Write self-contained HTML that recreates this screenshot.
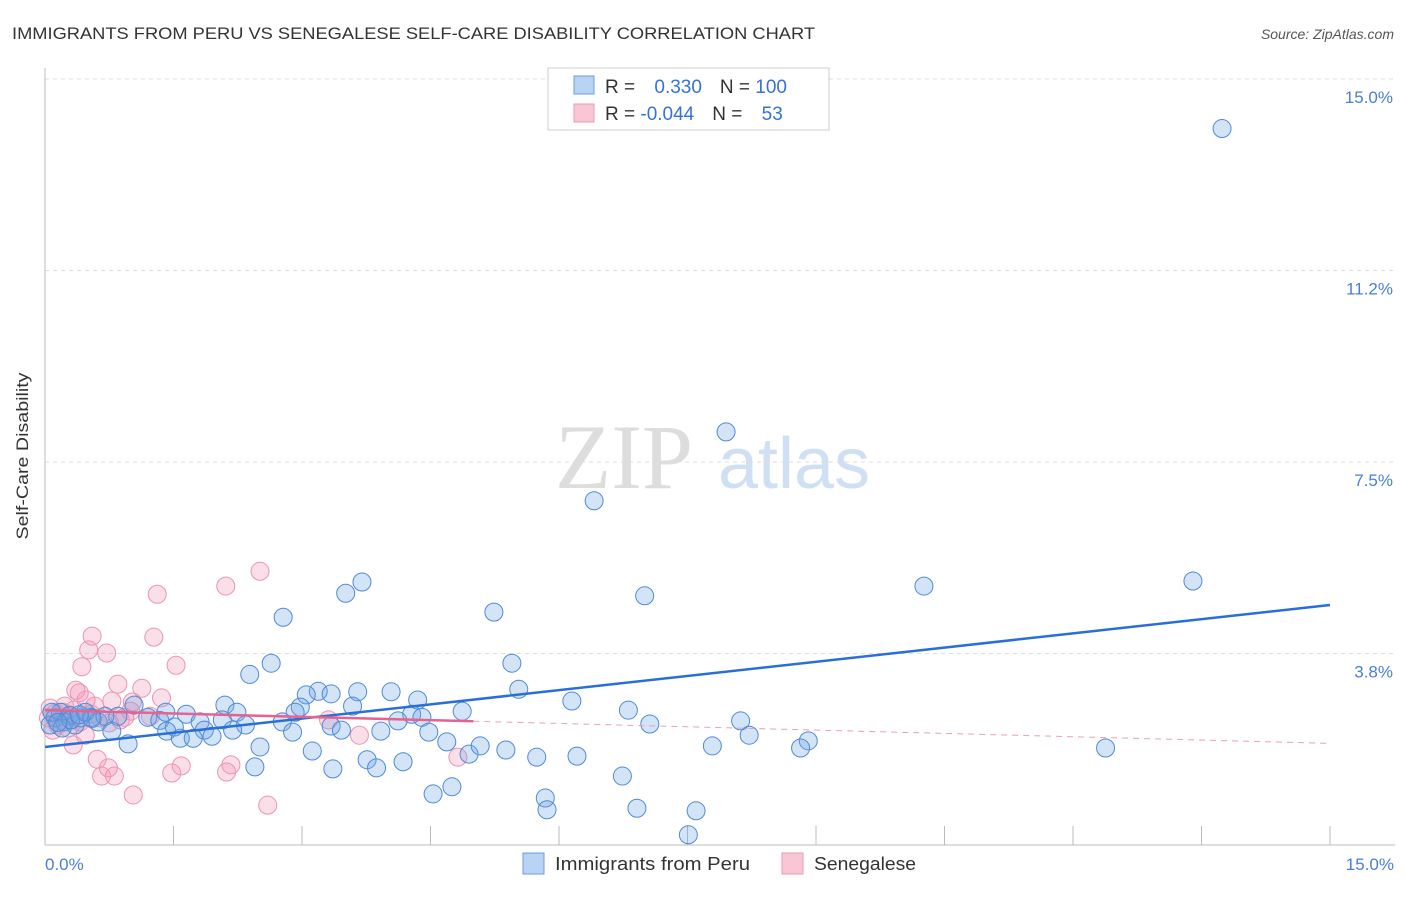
<!DOCTYPE html>
<html><head><meta charset="utf-8"><style>
body{margin:0;background:#fff;font-family:"Liberation Sans",sans-serif;}
</style></head><body>
<svg width="1406" height="892" xmlns="http://www.w3.org/2000/svg" font-family="Liberation Sans, sans-serif">
<text x="12" y="39" font-size="17" fill="#333" textLength="803" lengthAdjust="spacingAndGlyphs">IMMIGRANTS FROM PERU VS SENEGALESE SELF-CARE DISABILITY CORRELATION CHART</text>
<text x="1394" y="39" font-size="14" fill="#555" text-anchor="end" font-style="italic">Source: ZipAtlas.com</text>
<g><text x="555" y="488" font-size="92" fill="#ddd" font-family="Liberation Serif, serif">ZIP</text><text x="718" y="488" font-size="72" fill="#d0e0f4">atlas</text></g>
<g id="grid"></g>
<line x1="45" y1="68" x2="45" y2="845" stroke="#bbb"/>
<line x1="45" y1="845" x2="1395" y2="845" stroke="#bbb"/>
<g id="xticks"></g>
<text x="28" y="456" font-size="17" fill="#333" text-anchor="middle" textLength="167" lengthAdjust="spacingAndGlyphs" transform="rotate(-90 28 456)">Self-Care Disability</text>
<text x="45" y="870" font-size="17" fill="#4a7fd4">0.0%</text>
<text x="1394" y="870" font-size="17" fill="#4a7fd4" text-anchor="end">15.0%</text>
<g id="pts"></g>
<g id="trend"></g>
<g>
<rect x="548" y="68" width="281" height="62" fill="#fff" stroke="#ccc"/>
<rect x="574" y="76" width="20" height="18" fill="#b9d3f5" stroke="#6a9ee0"/>
<rect x="574" y="104" width="20" height="18" fill="#f9c6d6" stroke="#eb9ab4"/>
<text x="605" y="93" font-size="19" fill="#333">R = <tspan fill="#3572d6" dx="14">0.330</tspan><tspan dx="18" fill="#333">N = </tspan><tspan fill="#3572d6">100</tspan></text>
<text x="605" y="120" font-size="19" fill="#333">R = <tspan fill="#3572d6">-0.044</tspan><tspan dx="18" fill="#333">N = </tspan><tspan fill="#3572d6" dx="14">53</tspan></text>
</g>
<g>
<rect x="523" y="853" width="21" height="21" fill="#b9d3f5" stroke="#6a9ee0"/>
<text x="555" y="870" font-size="18" fill="#333" textLength="195" lengthAdjust="spacingAndGlyphs">Immigrants from Peru</text>
<rect x="782" y="853" width="21" height="21" fill="#f9c6d6" stroke="#eb9ab4"/>
<text x="814" y="870" font-size="18" fill="#333" textLength="102" lengthAdjust="spacingAndGlyphs">Senegalese</text>
</g>
</svg>
<script>
const yTicks=[3.75,7.5,11.25,15];
const yTickLabels=["3.8%","7.5%","11.2%","15.0%"];
const xTicks=[0,1.5,3,4.5,6,7.5,9,10.5,12,13.5,15];
const peruX=[13.74,7.95,6.41,13.40,10.26,7.00,3.70,3.51,5.24,2.78,2.64,5.45,2.39,5.53,3.19,3.05,3.34,3.65,4.04,4.35,6.15,2.10,2.98,3.59,1.04,2.24,2.92,1.65,4.87,6.81,4.28,4.40,1.20,1.34,1.41,0.54,0.85,8.12,7.06,2.07,2.34,1.81,1.51,1.86,2.19,2.77,2.89,3.34,3.46,3.92,4.12,4.48,1.42,1.58,1.73,1.95,0.78,0.97,2.51,3.12,4.69,4.95,5.08,5.38,8.22,7.79,8.91,8.82,12.38,3.76,3.87,4.18,5.74,6.21,2.45,3.36,6.74,4.75,4.53,5.84,5.86,6.91,7.60,7.51,0.06,0.12,0.18,0.23,0.29,0.35,0.41,0.47,0.62,0.70,0.08,0.20,0.30,0.15,0.55,0.40];
const peruY=[14.03,8.09,6.74,5.17,5.07,4.88,5.15,4.93,4.56,4.46,3.56,3.56,3.34,3.05,3.01,2.94,2.96,3.00,3.00,2.84,2.82,2.74,2.70,2.72,2.74,2.60,2.60,2.56,2.62,2.64,2.56,2.50,2.50,2.44,2.60,2.50,2.52,2.43,2.37,2.45,2.35,2.41,2.31,2.25,2.25,2.41,2.21,2.33,2.25,2.23,2.43,2.21,2.23,2.09,2.09,2.13,2.23,1.98,1.92,1.84,2.02,1.78,1.94,1.86,2.15,1.94,2.04,1.90,1.90,1.67,1.51,1.63,1.72,1.74,1.53,1.49,1.35,1.14,1.00,0.92,0.69,0.72,0.67,0.20,2.35,2.49,2.60,2.41,2.54,2.35,2.49,2.60,2.41,2.52,2.60,2.29,2.45,2.40,2.48,2.55];
const senX=[2.51,2.11,1.31,0.55,1.27,0.51,0.72,0.43,1.53,0.36,0.40,0.85,1.13,1.36,0.48,0.78,1.02,0.58,0.34,1.00,0.93,3.31,0.75,0.47,3.67,0.33,4.82,0.61,0.74,1.59,2.17,0.66,0.81,1.48,2.12,1.03,2.60,0.06,0.12,0.18,0.23,0.29,0.04,0.15,0.27,0.41,0.54,0.64,0.88,1.23,0.09,0.21,0.32];
const senY=[5.36,5.07,4.91,4.09,4.07,3.82,3.76,3.49,3.52,3.03,2.98,3.15,3.07,2.88,2.84,2.82,2.80,2.72,2.64,2.62,2.50,2.45,2.39,2.15,2.15,1.96,1.72,1.68,1.51,1.55,1.57,1.35,1.35,1.41,1.43,0.98,0.78,2.68,2.58,2.45,2.72,2.52,2.49,2.35,2.29,2.41,2.56,2.49,2.45,2.52,2.25,2.60,2.45];
const peruTrend=[1.92,4.70];
const senTrend=[2.64,1.99];
const NS="http://www.w3.org/2000/svg";
const sx=v=>45+v/15*1285, sy=v=>845-v/15*766;
function mk(t,a,p){const e=document.createElementNS(NS,t);for(const k in a)e.setAttribute(k,a[k]);p.appendChild(e);return e;}
const grid=document.getElementById('grid');
yTicks.forEach((t,i)=>{
 const l=mk('line',{x1:45,x2:1395,y1:sy(t),y2:sy(t),stroke:'#ddd','stroke-dasharray':'4,4'},grid);
 
 
 const tx=mk('text',{x:1393,y:sy(t)+24,'font-size':17,fill:'#4a7fd4','text-anchor':'end'},grid);
 tx.textContent=yTickLabels[i];
 
 
});
const xt=document.getElementById('xticks');
xTicks.forEach(t=>{
 const l=mk('line',{x1:sx(t),x2:sx(t),y1:826,y2:845,stroke:'#bbb'},xt);
 
 
});
const pts=document.getElementById('pts');
senX.forEach((x,i)=>{
 const c=mk('circle',{cx:sx(x),cy:sy(senY[i]),r:9,fill:'rgba(242,150,180,0.3)',stroke:'#eb94b1','stroke-width':1},pts);
 
 
});
peruX.forEach((x,i)=>{
 const c=mk('circle',{cx:sx(x),cy:sy(peruY[i]),r:9,fill:'rgba(110,165,230,0.3)',stroke:'#4f8ad8','stroke-width':1},pts);
 
 
});
const tr=document.getElementById('trend');
const b=mk('line',{x1:sx(0),y1:sy(peruTrend[0]),x2:sx(15),y2:sy(peruTrend[1]),stroke:'#2a6fd6','stroke-width':2.5},tr);


const ym=senTrend[0]+(senTrend[1]-senTrend[0])*5/15;
const p1=mk('line',{x1:sx(0),y1:sy(senTrend[0]),x2:sx(5),y2:sy(ym),stroke:'#e8628e','stroke-width':2.5},tr);


const p2=mk('line',{x1:sx(5),y1:sy(ym),x2:sx(15),y2:sy(senTrend[1]),stroke:'#e8a0b8','stroke-width':1,'stroke-dasharray':'6,5'},tr);


</script>
</body></html>
